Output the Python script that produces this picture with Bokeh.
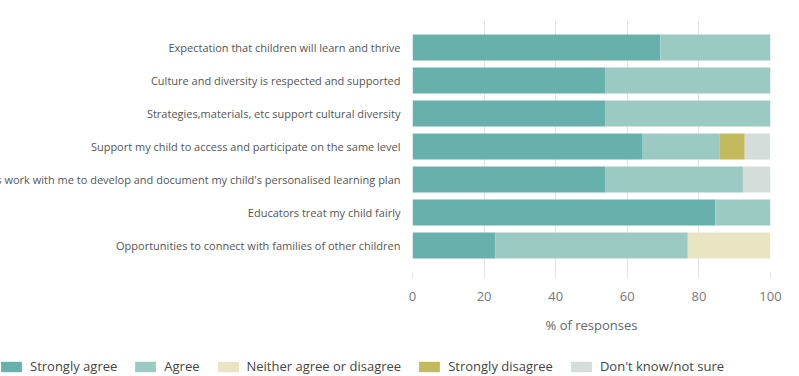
from bokeh.plotting import figure
from bokeh.models import ColumnDataSource, FactorRange, Range1d, Legend, LegendItem
from bokeh.embed import file_html
from bokeh.resources import INLINE

categories = [
    "Expectation that children will learn and thrive",
    "Culture and diversity is respected and supported",
    "Strategies,materials, etc support cultural diversity",
    "Support my child to access and participate on the same level",
    "Educators work with me to develop and document my child's personalised learning plan",
    "Educators treat my child fairly",
    "Opportunities to connect with families of other children",
]
strongly_agree = [69.2, 53.8, 53.8, 64.3, 53.8, 84.6, 23.1]
agree = [30.8, 46.2, 46.2, 21.4, 38.5, 15.4, 53.8]
neither = [0, 0, 0, 0, 0, 0, 23.1]
strongly_disagree = [0, 0, 0, 7.1, 0, 0, 0]
dont_know = [0, 0, 0, 7.1, 7.7, 0, 0]

series_keys = ["sa", "ag", "ne", "sd", "dk"]
series_labels = ["Strongly agree", "Agree", "Neither agree or disagree",
                 "Strongly disagree", "Don't know/not sure"]
colors = ["#67b0ab", "#9bcac3", "#e9e4c1", "#c3b95d", "#d4ddd9"]
x_ticks = [0, 20, 40, 60, 80, 100]
x_title = "% of responses"

src = ColumnDataSource(dict(cat=categories, sa=strongly_agree, ag=agree,
                            ne=neither, sd=strongly_disagree, dk=dont_know))

SHIFT = 92
FONT = "Open Sans"

y_range = FactorRange(*reversed(categories), range_padding=0.32,
                      range_padding_units="absolute")
p = figure(width=799 + SHIFT, height=345, y_range=y_range, x_range=Range1d(0, 100),
           output_backend="svg", toolbar_location=None,
           min_border_left=412 + SHIFT, min_border_right=29,
           min_border_top=20, min_border_bottom=73)
p.styles = {"margin-left": f"-{SHIFT}px"}
p.hbar_stack(series_keys, y="cat", height=0.79, color=colors, source=src,
             line_color=None)

p.outline_line_color = None
p.ygrid.grid_line_color = None
p.xgrid.grid_line_color = "#e3e3e3"
p.xgrid.ticker = x_ticks
p.xaxis.ticker = x_ticks
p.xaxis.axis_line_color = None
p.xaxis.major_tick_line_color = "#e3e3e3"
p.xaxis.major_tick_in = 0
p.xaxis.major_tick_out = 5
p.xaxis.minor_tick_line_color = None
p.xaxis.major_label_standoff = 14
p.xaxis.major_label_text_font = FONT
p.xaxis.major_label_text_font_size = "13px"
p.xaxis.major_label_text_color = "#777777"
p.xaxis.axis_label = x_title
p.xaxis.axis_label_text_font = FONT
p.xaxis.axis_label_text_font_size = "13px"
p.xaxis.axis_label_text_font_style = "normal"
p.xaxis.axis_label_text_color = "#666666"
p.xaxis.axis_label_standoff = 12

p.yaxis.axis_line_color = None
p.yaxis.major_tick_line_color = None
p.yaxis.major_label_standoff = 6
p.yaxis.major_label_text_font = FONT
p.yaxis.major_label_text_font_size = "11px"
p.yaxis.major_label_text_color = "#555555"

# legend-only figure below the chart
lg = figure(width=799, height=31, y_range=FactorRange(*categories),
            x_range=Range1d(0, 100), x_axis_location=None, y_axis_location=None,
            output_backend="svg", toolbar_location=None, min_border=0)
lg.grid.visible = False
lg.outline_line_color = None
rs = lg.hbar_stack(series_keys, y="cat", height=0.79, color=colors, source=src,
                   line_color=None)
for r in rs:
    r.visible = False
legend = Legend(items=[LegendItem(label=l, renderers=[r]) for l, r in zip(series_labels, rs)],
                orientation="horizontal", location=(-2, 1),
                glyph_width=26, glyph_height=13, label_standoff=6, spacing=15,
                padding=0, margin=0, border_line_color=None,
                background_fill_alpha=0,
                label_text_font=FONT, label_text_font_size="13px",
                label_text_color="#444444")
lg.add_layout(legend, "center")

open("out.html", "w").write(file_html([p, lg], INLINE))
